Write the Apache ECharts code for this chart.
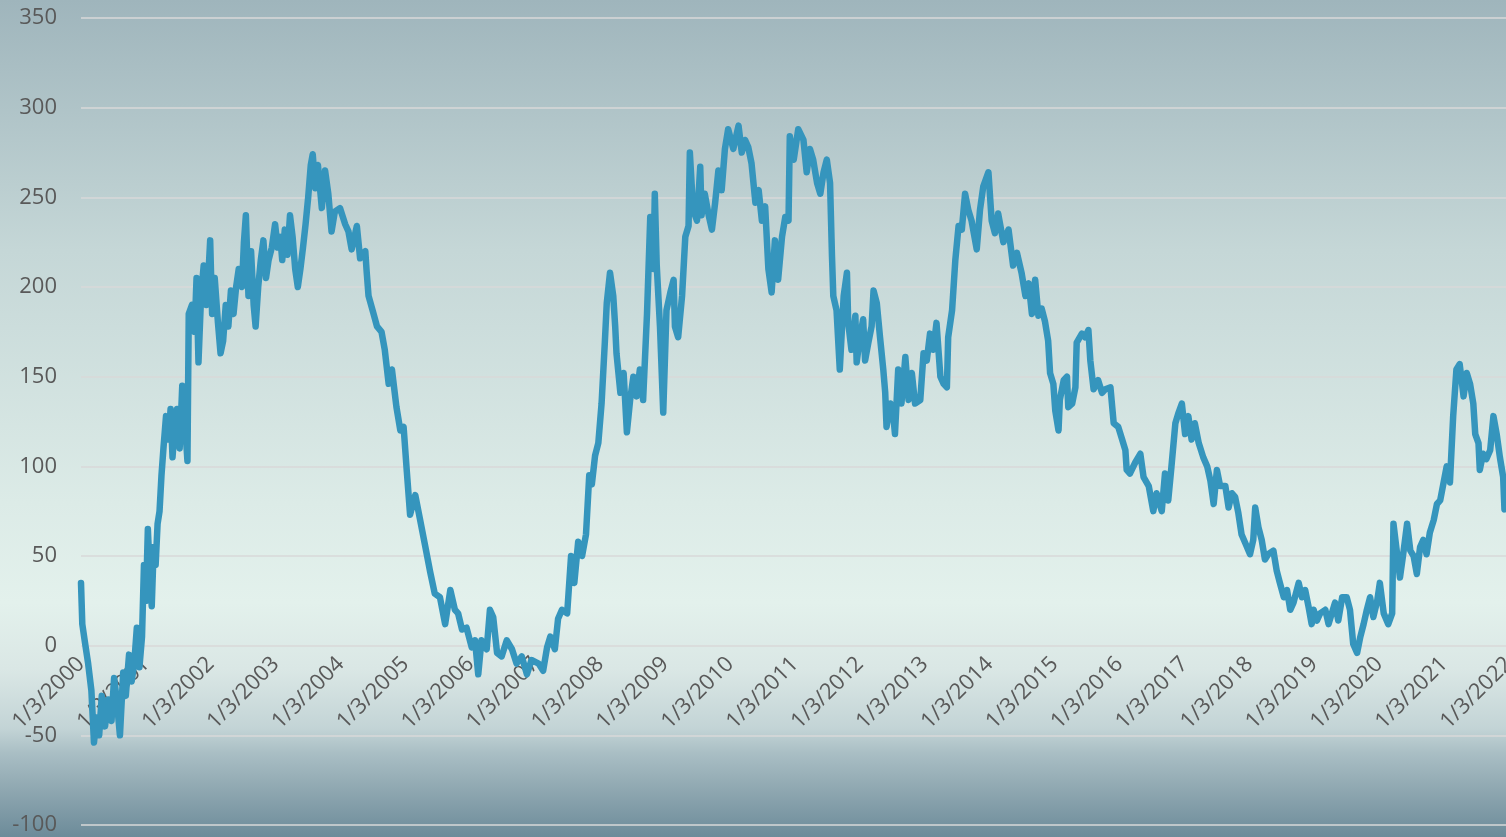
<!DOCTYPE html>
<html>
<head>
<meta charset="utf-8">
<script src="https://cdn.jsdelivr.net/npm/echarts@6/dist/echarts.min.js"></script>
<style>
  html, body { margin: 0; padding: 0; }
  #chart {
    width: 1506px;
    height: 837px;
    background: linear-gradient(to bottom,
      #9fb5bc 0%, #c5d7d7 30%, #dcebe7 60%, #e3f1ec 72%,
      #dae7e5 80%, #c3d4d6 87%, #a9bec4 90%, #8ba4ae 95%, #6c8b99 100%);
  }
</style>
</head>
<body>
<div id="chart"></div>
<script>
const startYear = 2000
const yearCount = 22
const yTicks = [-100, -50, 0, 50, 100, 150, 200, 250, 300, 350]

// years since 1/3/2000
const t = [
  0.00, 0.02, 0.06, 0.11, 0.16, 0.20, 0.24, 0.28, 0.32, 0.37, 0.42, 0.47, 0.51, 0.55, 0.60, 0.65, 0.69, 0.74, 0.78, 0.82,
  0.86, 0.90, 0.94, 0.97, 1.00, 1.03, 1.06, 1.09, 1.12, 1.15, 1.18, 1.21, 1.24, 1.27, 1.31, 1.35, 1.38, 1.41, 1.45, 1.48,
  1.52, 1.56, 1.60, 1.64, 1.66, 1.71, 1.75, 1.78, 1.81, 1.85, 1.89, 1.93, 1.96, 1.99, 2.02, 2.06, 2.11, 2.15, 2.19, 2.23,
  2.27, 2.31, 2.35, 2.39, 2.43, 2.48, 2.51, 2.54, 2.58, 2.62, 2.66, 2.69, 2.73, 2.77, 2.81, 2.85, 2.89, 2.94, 2.99, 3.03,
  3.07, 3.10, 3.14, 3.18, 3.22, 3.26, 3.30, 3.34, 3.38, 3.42, 3.46, 3.50, 3.54, 3.57, 3.61, 3.65, 3.71, 3.76, 3.81, 3.86,
  3.91, 3.99, 4.07, 4.12, 4.17, 4.25, 4.30, 4.38, 4.40, 4.43, 4.50, 4.56, 4.63, 4.68, 4.74, 4.79, 4.86, 4.92, 4.97, 5.02,
  5.07, 5.15, 5.22, 5.30, 5.38, 5.45, 5.53, 5.61, 5.69, 5.76, 5.81, 5.87, 5.94, 6.02, 6.07, 6.12, 6.17, 6.25, 6.30, 6.35,
  6.41, 6.48, 6.56, 6.64, 6.71, 6.79, 6.87, 6.94, 7.05, 7.12, 7.18, 7.23, 7.30, 7.35, 7.41, 7.49, 7.55, 7.60, 7.66, 7.72,
  7.78, 7.83, 7.87, 7.92, 7.97, 8.02, 8.07, 8.10, 8.15, 8.20, 8.23, 8.25, 8.31, 8.36, 8.41, 8.46, 8.51, 8.56, 8.61, 8.66,
  8.72, 8.77, 8.82, 8.84, 8.87, 8.92, 8.97, 9.02, 9.08, 9.13, 9.15, 9.20, 9.26, 9.31, 9.36, 9.38, 9.43, 9.49, 9.54, 9.56,
  9.61, 9.67, 9.72, 9.77, 9.82, 9.87, 9.92, 9.97, 10.05, 10.13, 10.18, 10.23, 10.28, 10.33, 10.39, 10.44, 10.49, 10.54, 10.59, 10.64,
  10.69, 10.74, 10.80, 10.85, 10.90, 10.92, 10.98, 11.05, 11.13, 11.18, 11.23, 11.28, 11.34, 11.39, 11.44, 11.49, 11.54, 11.57, 11.59, 11.64,
  11.69, 11.75, 11.80, 11.82, 11.87, 11.93, 11.95, 12.00, 12.05, 12.08, 12.13, 12.18, 12.21, 12.26, 12.31, 12.36, 12.39, 12.41, 12.47, 12.52,
  12.54, 12.59, 12.64, 12.70, 12.75, 12.80, 12.85, 12.93, 12.98, 13.03, 13.08, 13.13, 13.18, 13.24, 13.29, 13.34, 13.36, 13.42, 13.47, 13.52,
  13.57, 13.62, 13.67, 13.72, 13.80, 13.85, 13.90, 13.98, 14.03, 14.08, 14.13, 14.21, 14.29, 14.36, 14.42, 14.49, 14.55, 14.60, 14.65, 14.70,
  14.75, 14.80, 14.85, 14.90, 14.93, 14.98, 15.01, 15.06, 15.08, 15.14, 15.19, 15.21, 15.27, 15.32, 15.34, 15.42, 15.47, 15.52, 15.55, 15.60,
  15.67, 15.73, 15.78, 15.86, 15.91, 15.98, 16.04, 16.09, 16.11, 16.16, 16.24, 16.32, 16.37, 16.45, 16.52, 16.57, 16.65, 16.70, 16.75, 16.80,
  16.86, 16.91, 16.96, 17.01, 17.06, 17.11, 17.16, 17.22, 17.29, 17.35, 17.40, 17.45, 17.50, 17.55, 17.63, 17.68, 17.73, 17.78, 17.83, 17.88,
  17.94, 18.01, 18.06, 18.09, 18.14, 18.19, 18.24, 18.29, 18.37, 18.42, 18.47, 18.53, 18.58, 18.63, 18.68, 18.76, 18.81, 18.86, 18.91, 18.96,
  18.99, 19.04, 19.09, 19.17, 19.22, 19.27, 19.32, 19.37, 19.43, 19.50, 19.55, 19.60, 19.66, 19.71, 19.76, 19.81, 19.86, 19.91, 19.97, 20.01,
  20.07, 20.14, 20.20, 20.22, 20.27, 20.32, 20.37, 20.43, 20.48, 20.53, 20.58, 20.63, 20.68, 20.73, 20.78, 20.84, 20.89, 20.94, 21.04, 21.09,
  21.14, 21.19, 21.24, 21.30, 21.35, 21.40, 21.45, 21.48, 21.53, 21.55, 21.60, 21.65, 21.71, 21.76, 21.81, 21.86, 21.91, 21.93
]

const values = [
  35, 12, 2, -10, -25, -54, -40, -50, -28, -45, -30, -42, -18, -30, -50, -15, -28, -5, -20, -10,
  10, -12, 5, 45, 25, 65, 40, 22, 55, 45, 68, 75, 95, 110, 128, 115, 132, 105, 125, 132,
  110, 145, 125, 103, 185, 190, 175, 205, 158, 195, 212, 190, 205, 226, 185, 205, 180, 163, 170, 190,
  178, 198, 185, 200, 210, 200, 225, 240, 195, 220, 190, 178, 200, 215, 226, 205, 215, 222, 235, 222,
  228, 215, 232, 218, 240, 228, 210, 200, 210, 222, 235, 250, 268, 274, 255, 268, 244, 265, 252, 231,
  242, 244, 235, 231, 221, 234, 216, 220, 209, 195, 186, 178, 175, 165, 146, 154, 133, 120, 122, 97,
  73, 84, 71, 56, 41, 29, 27, 12, 31, 20, 18, 9, 10, -1, 3, -16, 3, -2, 20, 16,
  -4, -6, 3, -2, -10, -6, -16, -8, -10, -14, -1, 5, -2, 15, 20, 18, 50, 35, 58, 50,
  62, 95, 90, 106, 113, 135, 169, 191, 208, 195, 178, 163, 141, 152, 119, 137, 150, 139, 154, 137,
  185, 239, 210, 252, 212, 178, 130, 187, 197, 204, 178, 172, 195, 228, 234, 275, 243, 237, 267, 240,
  252, 240, 232, 247, 265, 254, 277, 288, 277, 290, 275, 282, 278, 269, 247, 254, 237, 245, 210, 197,
  226, 204, 228, 239, 237, 284, 271, 288, 282, 264, 277, 271, 258, 252, 264, 271, 258, 217, 195, 187,
  154, 195, 208, 180, 165, 184, 158, 172, 182, 159, 169, 178, 198, 191, 172, 154, 141, 122, 135, 126,
  118, 154, 135, 161, 137, 152, 135, 137, 163, 159, 174, 165, 180, 150, 146, 144, 172, 187, 215, 234,
  232, 252, 243, 237, 221, 243, 256, 264, 237, 230, 241, 225, 232, 212, 219, 208, 195, 202, 185, 204,
  184, 188, 181, 170, 152, 146, 131, 120, 137, 148, 150, 133, 135, 144, 169, 174, 172, 176, 159, 143,
  148, 141, 143, 144, 124, 122, 115, 109, 98, 96, 102, 107, 94, 89, 75, 85, 75, 96, 81, 100,
  124, 130, 135, 118, 128, 115, 124, 113, 105, 100, 92, 79, 98, 89, 89, 77, 85, 83, 74, 62,
  57, 51, 59, 77, 66, 59, 48, 51, 53, 42, 35, 27, 31, 20, 24, 35, 27, 31, 22, 12,
  20, 14, 18, 20, 12, 18, 24, 14, 27, 27, 20, 1, -4, 5, 12, 20, 27, 16, 25, 35,
  18, 12, 18, 68, 53, 38, 51, 68, 53, 50, 40, 55, 59, 51, 63, 70, 79, 81, 100, 91,
  128, 154, 157, 139, 152, 146, 135, 118, 113, 98, 107, 104, 109, 128, 118, 105, 94, 76
]

const seriesData = t.map((x, i) => [x, values[i]])

const textColor = '#595959'
const gridColor = '#d9d9d9'

const chart = echarts.init(document.getElementById('chart'))
chart.setOption({
  backgroundColor: 'transparent',
  animation: false,
  grid: {
    left: 81,
    right: -3,
    top: 18,
    bottom: 12,
    containLabel: false,
    outerBoundsMode: 'none'
  },
  xAxis: {
    type: 'value',
    min: 0,
    max: yearCount,
    interval: 1,
    z: 0,
    offset: -179.4, // axis sits on the zero line
    axisLine: { show: false, onZero: false },
    axisTick: { show: false },
    axisLabel: {
      rotate: 45,
      margin: 15,
      showMinLabel: true,
      showMaxLabel: true,
      color: textColor,
      fontFamily: 'Open Sans',
      fontSize: 22,
      formatter: function (v) {
        return '1/3/' + (startYear + v)
      }
    },
    splitLine: { show: false }
  },
  yAxis: {
    type: 'value',
    min: yTicks[0],
    max: yTicks[yTicks.length - 1],
    interval: 50,
    axisLine: { show: false },
    axisTick: { show: false },
    axisLabel: {
      margin: 24,
      color: textColor,
      fontFamily: 'Open Sans',
      fontSize: 22
    },
    splitLine: {
      lineStyle: { color: gridColor, width: 1.5 }
    }
  },
  series: [{
    type: 'line',
    data: seriesData,
    symbol: 'none',
    clip: false,
    z: 5,
    lineStyle: { color: '#3595bd', width: 6.5, join: 'round', cap: 'round' }
  }]
})
</script>
</body>
</html>
